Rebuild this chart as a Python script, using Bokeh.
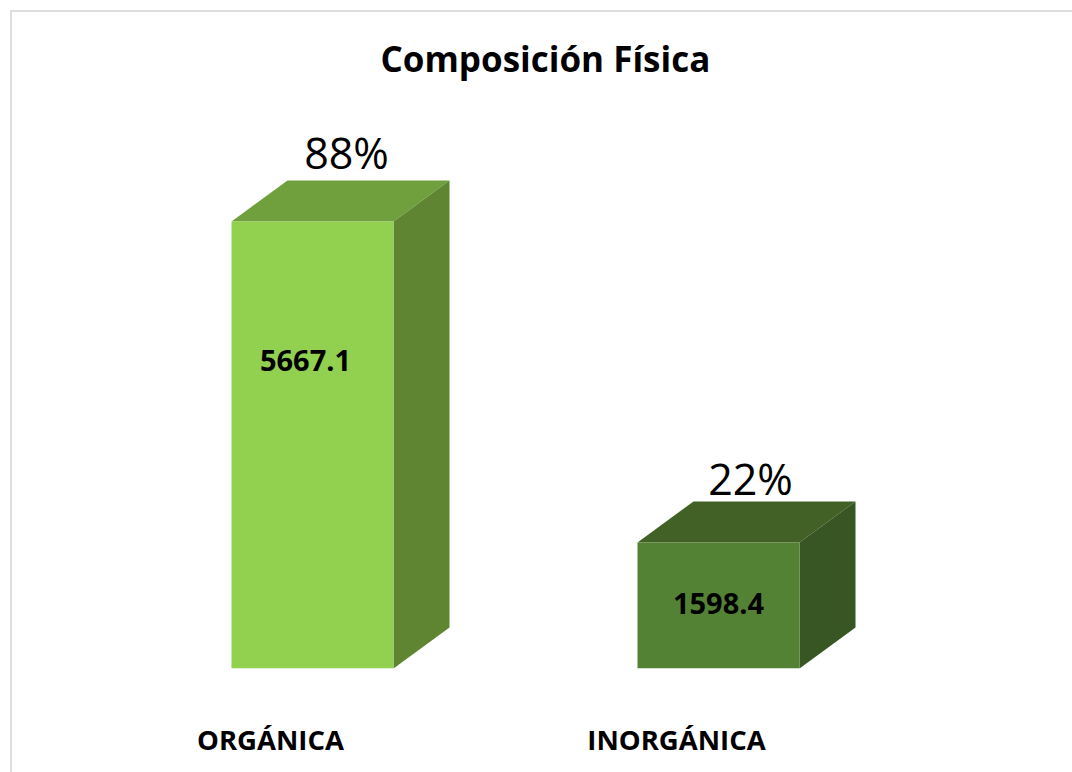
from bokeh.plotting import figure
from bokeh.embed import file_html
from bokeh.resources import INLINE
from bokeh.models import FixedTicker, Range1d, ColumnDataSource, InlineStyleSheet
from bokeh.core.properties import value

categories = ["ORGÁNICA", "INORGÁNICA"]
masses = [5667.1, 1598.4]
percents = ["88%", "22%"]
front_colors = ["#92D050", "#548235"]
top_colors = ["#70A03D", "#416126"]
side_colors = ["#5F8532", "#375623"]

# pixel geometry of the chart
PX_PER_CAT = 406.0
PX_PER_VAL = 447.0 / 5667.1
W, H = 1072, 772
TOP, BOTTOM = 81, 104
BASE_X_PX = 270.0
BAR_SHIFT = 42 / PX_PER_CAT
BAR_W = 162 / PX_PER_CAT
DX = 56 / PX_PER_CAT
DY = 41 / PX_PER_VAL

p = figure(width=W, height=H, output_backend="svg", toolbar_location=None,
           x_range=Range1d(-BASE_X_PX / PX_PER_CAT, (W - BASE_X_PX) / PX_PER_CAT),
           y_range=Range1d(0, (H - TOP - BOTTOM) / PX_PER_VAL),
           min_border_left=0, min_border_right=0, min_border_top=TOP, min_border_bottom=BOTTOM,
           title="Composición Física")
p.outline_line_color = None
p.grid.visible = False
p.yaxis.visible = False
p.title.align = "left"
p.title.offset = 380
p.title.standoff = 0
p.title.text_font = "Open Sans"
p.title.text_font_style = "bold"
p.title.text_font_size = "35px"
p.title.text_color = "#000000"

ax = p.xaxis[0]
ax.ticker = FixedTicker(ticks=list(range(len(categories))))
ax.major_label_overrides = {i: c for i, c in enumerate(categories)}
ax.axis_line_color = None
ax.major_tick_line_color = None
ax.minor_tick_line_color = None
ax.major_label_standoff = 46
ax.major_label_text_font = "Open Sans"
ax.major_label_text_font_style = "bold"
ax.major_label_text_font_size = "27.5px"
ax.major_label_text_color = "#000000"

idx = list(range(len(categories)))
left = [i + BAR_SHIFT - BAR_W / 2 for i in idx]
right = [l + BAR_W for l in left]

top_xs = [[l, r, r + DX, l + DX] for l, r in zip(left, right)]
top_ys = [[v, v, v + DY, v + DY] for v in masses]
side_xs = [[r, r + DX, r + DX, r] for r in right]
side_ys = [[0, DY, v + DY, v] for v in masses]

p.patches(top_xs, top_ys, fill_color=top_colors, line_color=None)
p.patches(side_xs, side_ys, fill_color=side_colors, line_color=None)
p.quad(left=left, right=right, bottom=0, top=masses, fill_color=front_colors, line_color=None)

# value labels
val_src = ColumnDataSource(dict(
    x=[i + BAR_SHIFT for i in idx],
    y=[v / 2 for v in masses],
    t=[f"{v:.1f}" for v in masses],
    dx=[-7, 0],
    dy=[-85, -2],
))
p.text("x", "y", text="t", source=val_src, x_offset="dx", y_offset="dy",
       text_align="center", text_baseline="middle",
       text_font=value("Open Sans"), text_font_style="bold",
       text_font_size="29px", text_color="#000000")

# percentage labels
pct_src = ColumnDataSource(dict(
    x=[i + BAR_SHIFT + DX / 2 for i in idx],
    y=[v + DY for v in masses],
    t=percents,
    dx=[6, 4],
    dy=[-28, -23],
))
p.text("x", "y", text="t", source=pct_src, x_offset="dx", y_offset="dy",
       text_align="center", text_baseline="alphabetic",
       text_font=value("Open Sans"), text_font_size="43px", text_color="#000000")

# chart area border (runs off the right and bottom of the picture)
p.stylesheets = [InlineStyleSheet(css=":host::after{content:'';position:absolute;left:10px;top:10px;"
                                      "right:0;bottom:0;border-left:2px solid #DEDEDE;"
                                      "border-top:2px solid #DEDEDE;pointer-events:none;}")]

open("out.html", "w").write(file_html(p, INLINE))
